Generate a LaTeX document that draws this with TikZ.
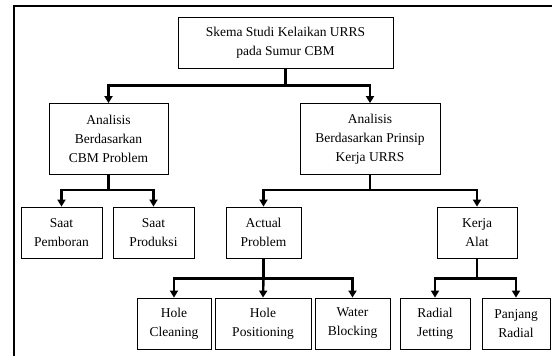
\documentclass[tikz,border=0pt]{standalone}
\usepackage{fontspec}
\setmainfont{Liberation Serif}
\usetikzlibrary{arrows.meta}

\begin{document}
\begin{tikzpicture}[
  x=1pt, y=-1pt,
  box/.style={draw, line width=0.8pt, inner sep=0pt, align=center,
    font=\fontsize{13.5}{19}\selectfont},
  link/.style={line width=2.4pt},
  arrowlink/.style={link, -{Triangle[width=8pt,length=7pt]}}
]
\useasboundingbox (0,0) rectangle (552,356);

% Frame
\draw[line width=2.4pt] (14,356) -- (14,6) -- (552,6);

% Top level
\node[box, minimum width=215pt, minimum height=51pt] (top) at (285.5,42.5)
  {Skema Studi Kelaikan URRS\\pada Sumur CBM};

% Second level
\node[box, minimum width=119pt, minimum height=71pt] (cbm) at (108.5,139)
  {Analisis\\Berdasarkan\\CBM Problem};
\node[box, minimum width=140pt, minimum height=71pt] (urrs) at (370,139)
  {Analisis\\Berdasarkan Prinsip\\Kerja URRS};

% Third level
\node[box, minimum width=81pt, minimum height=51pt] (pemboran) at (61.5,232.5)
  {Saat\\Pemboran};
\node[box, minimum width=81pt, minimum height=51pt] (produksi) at (153.5,232.5)
  {Saat\\Produksi};
\node[box, minimum width=75pt, minimum height=51pt] (actual) at (263.5,232.5)
  {Actual\\Problem};
\node[box, minimum width=80pt, minimum height=51pt] (alat) at (477,232.5)
  {Kerja\\Alat};

% Fourth level
\node[box, minimum width=74pt, minimum height=51pt] (cleaning) at (174,323.5)
  {Hole\\Cleaning};
\node[box, minimum width=96pt, minimum height=51pt] (positioning) at (263,323.5)
  {Hole\\Positioning};
\node[box, minimum width=75pt, minimum height=51pt] (blocking) at (352.5,323.5)
  {Water\\Blocking};
\node[box, minimum width=70pt, minimum height=51pt] (jetting) at (435,323.5)
  {Radial\\Jetting};
\node[box, minimum width=68pt, minimum height=51pt] (panjang) at (516,323.5)
  {Panjang\\Radial};

% Connectors
\draw[link] (top.south) -- ++(0,17) coordinate (topbar);
\draw[arrowlink] (topbar) -| (cbm.north);
\draw[arrowlink] (topbar) -| (urrs.north);

\draw[link] (cbm.south) -- ++(0,15) coordinate (cbmbar);
\draw[arrowlink] (cbmbar) -| (pemboran.north);
\draw[arrowlink] (cbmbar) -| (produksi.north);

\draw[link] (urrs.south) -- ++(0,15) coordinate (urrsbar);
\draw[arrowlink] (urrsbar) -| (actual.north);
\draw[arrowlink] (urrsbar) -| (alat.north);

\draw[link] (actual.south) -- ++(0,20) coordinate (actualbar);
\draw[arrowlink] (actualbar) -| (cleaning.north);
\draw[arrowlink] (actualbar) -- (positioning.north);
\draw[arrowlink] (actualbar) -| (blocking.north);

\draw[link] (alat.south) -- ++(0,20) coordinate (alatbar);
\draw[arrowlink] (alatbar) -| (jetting.north);
\draw[arrowlink] (alatbar) -| (panjang.north);
\end{tikzpicture}
\end{document}
